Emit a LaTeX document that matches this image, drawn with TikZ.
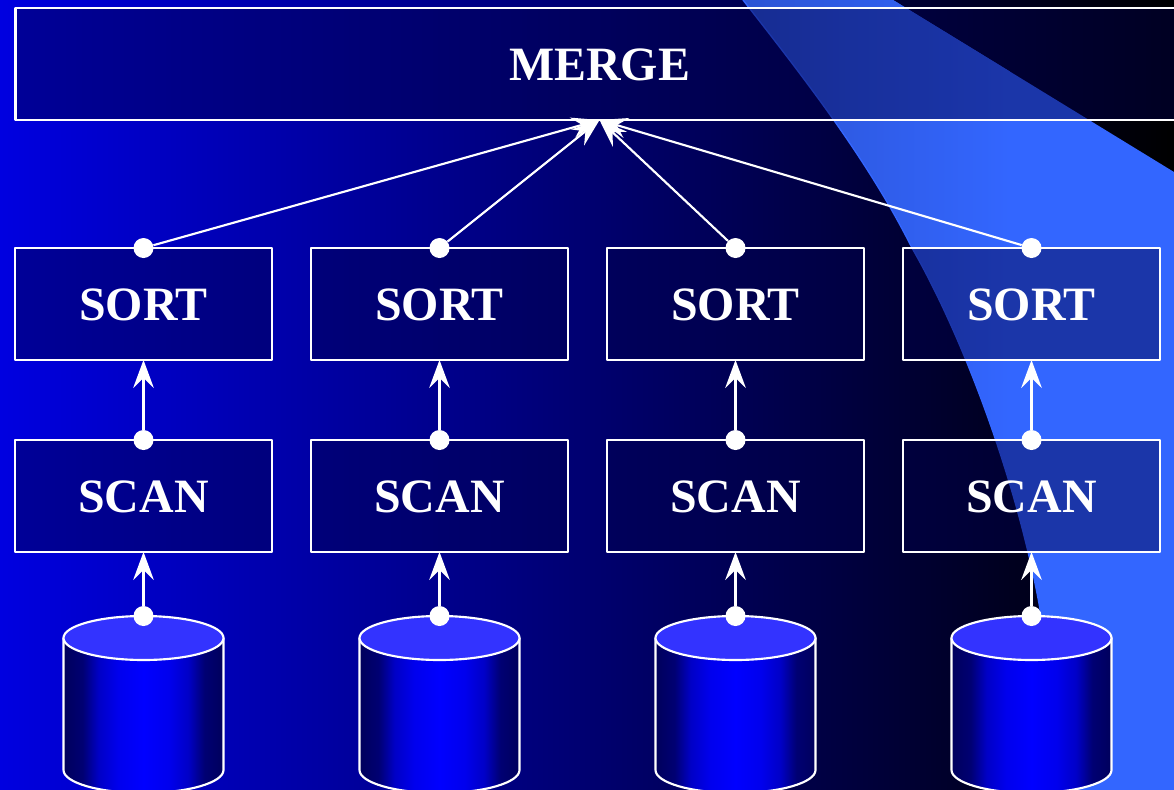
\documentclass[tikz,border=0pt]{standalone}
\usepackage{fontspec}
\setmainfont{Liberation Serif}
\usetikzlibrary{arrows.meta}
\definecolor{swoopblue}{RGB}{51,102,255}
\definecolor{swoopdark}{RGB}{44,84,212}
\definecolor{disktop}{RGB}{51,51,255}
\pgfdeclarehorizontalshading{diskshade}{100bp}{rgb(0bp)=(0,0,.36); rgb(25bp)=(0,0,.36); rgb(31bp)=(0,0,.45); rgb(36bp)=(0,0,.78); rgb(42bp)=(0,0,.93); rgb(50bp)=(0,0,1); rgb(58bp)=(0,0,.93); rgb(64bp)=(0,0,.78); rgb(69bp)=(0,0,.45); rgb(75bp)=(0,0,.36); rgb(100bp)=(0,0,.36)}
\newcommand{\swoopcurve}{(743,0) .. controls (804,78) and (868,160) .. (912,248) .. controls (965,340) and (1025,500) .. (1045,640)}
\tikzset{
	opbox/.style={draw=white,line width=1.6pt,fill={rgb,255:red,0;green,0;blue,74},fill opacity=0.47,text opacity=1,text=white,
		font=\fontsize{35.9}{40}\selectfont\bfseries,minimum height=84pt,inner sep=0pt,outer sep=0pt,text height=25.2pt,text depth=0pt},
	dot/.style={circle,fill=white,inner sep=0pt,minimum size=15pt},
	flow/.style={draw=white,line width=1.6pt,-{Stealth[length=21pt,width=15.5pt,inset=7.5pt]}},
	disk/.style={draw=white,line width=1.6pt}
}
\begin{document}
\begin{tikzpicture}[x=0.75pt,y=-0.75pt,line join=round]
	\useasboundingbox (0,0) rectangle (1174,789.6);
	\clip (0,0) rectangle (1174,789.6);
	% background
	\shade[left color={rgb,255:red,0;green,0;blue,224},right color=black] (0,0) rectangle (1174,790);
	\begin{scope}
		\clip \swoopcurve--(1060,790)--(1174,790)--(1174,172)--(893,0)--cycle;
		\fill[swoopblue] (742,0) rectangle (1174,790);
		\shade[left color=swoopdark,right color=swoopblue] (742,0) rectangle (1010,790);
	\end{scope}
	\draw[swoopblue,line width=1pt] \swoopcurve;
	% boxes
	\node[opbox,minimum width=876pt] (merge) at (599.5,64) {MERGE};
	\foreach \x/\n in {143.5/a,439.5/b,735.5/c,1031.5/d}{
		\node[opbox,minimum width=192.75pt] (sort\n) at (\x,304) {SORT};
		\node[opbox,minimum width=192.75pt] (scan\n) at (\x,496) {SCAN};
		% disk
		\shade[disk,shading=diskshade] (\x-80,638)--(\x-80,770) arc[start angle=180,end angle=360,x radius=80,y radius=-23]--(\x+80,638)--cycle;
		\draw[disk,fill=disktop] (\x,638) ellipse[x radius=80,y radius=22];
		\node[dot] (dotdisk\n) at (\x,616) {};
		\node[dot] (dotscan\n) at (scan\n.north) {};
		\node[dot] (dotsort\n) at (sort\n.north) {};
		\draw[flow] (dotdisk\n)--(scan\n.south);
		\draw[flow] (dotscan\n)--(sort\n.south);
		\draw[flow] (dotsort\n)--(merge.south);
	}
\end{tikzpicture}
\end{document}
